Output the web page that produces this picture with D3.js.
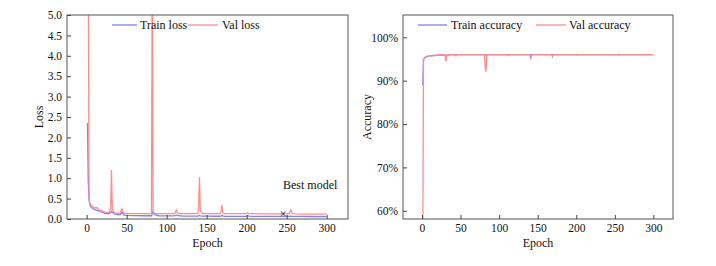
<!DOCTYPE html>
<html><head><meta charset="utf-8">
<script src="https://cdn.jsdelivr.net/npm/d3@7/dist/d3.min.js"></script>
<style>body{margin:0;background:#fff}svg{display:block}</style>
</head><body>
<svg id="c" width="716" height="266"></svg>
<script>
// Data
const epochs = [1,2,3,4,5,6,8,10,13,15,18,20,23,25,28,30,31,32,34,38,42,44,46,50,60,70,80,81,82,83,84,86,90,100,110,112,114,120,130,139,140,141,142,145,150,160,167,168,169,170,172,180,190,199,200,201,203,210,220,230,240,250,253,254,255,257,260,270,280,290,300];
const trainLoss = [2.35,0.9,0.45,0.36,0.31,0.28,0.25,0.23,0.21,0.2,0.18,0.16,0.14,0.13,0.13,0.15,0.19,0.17,0.13,0.11,0.11,0.17,0.1,0.09,0.085,0.08,0.08,0.08,0.12,0.18,0.14,0.1,0.08,0.075,0.075,0.1,0.08,0.07,0.07,0.07,0.075,0.09,0.075,0.07,0.07,0.068,0.068,0.07,0.09,0.075,0.068,0.066,0.066,0.066,0.068,0.08,0.068,0.065,0.064,0.064,0.064,0.063,0.063,0.065,0.07,0.063,0.062,0.062,0.061,0.06,0.06];
const valLoss = [6,6,0.5,0.38,0.35,0.33,0.3,0.27,0.28,0.23,0.2,0.19,0.17,0.16,0.16,0.25,1.2,0.25,0.16,0.14,0.15,0.25,0.15,0.13,0.13,0.13,0.13,0.13,7,0.2,0.15,0.13,0.13,0.13,0.13,0.22,0.14,0.13,0.13,0.13,0.3,1.03,0.2,0.13,0.13,0.13,0.13,0.18,0.35,0.16,0.13,0.13,0.13,0.13,0.14,0.15,0.13,0.13,0.125,0.125,0.125,0.125,0.125,0.16,0.22,0.14,0.125,0.12,0.12,0.12,0.12];
const trainAcc = [0.89,0.948,0.952,0.953,0.954,0.955,0.956,0.957,0.957,0.958,0.958,0.959,0.959,0.959,0.959,0.959,0.958,0.959,0.959,0.96,0.96,0.959,0.96,0.96,0.96,0.96,0.96,0.96,0.959,0.958,0.959,0.96,0.96,0.96,0.96,0.959,0.96,0.96,0.96,0.96,0.96,0.959,0.96,0.96,0.96,0.96,0.96,0.96,0.959,0.96,0.96,0.96,0.96,0.96,0.96,0.96,0.96,0.96,0.96,0.96,0.96,0.96,0.96,0.96,0.96,0.96,0.96,0.96,0.96,0.96,0.96];
const valAcc = [0.5,0.95,0.952,0.954,0.955,0.956,0.957,0.958,0.958,0.959,0.959,0.959,0.96,0.96,0.96,0.958,0.944,0.958,0.96,0.96,0.96,0.957,0.96,0.96,0.96,0.96,0.96,0.96,0.93,0.921,0.958,0.96,0.96,0.96,0.96,0.959,0.96,0.96,0.96,0.96,0.958,0.949,0.959,0.96,0.96,0.96,0.96,0.959,0.955,0.96,0.96,0.96,0.96,0.96,0.96,0.959,0.96,0.96,0.96,0.96,0.96,0.96,0.96,0.96,0.959,0.96,0.96,0.96,0.96,0.96,0.96];
const xTicks = [0,50,100,150,200,250,300];
const lossTicks = [0,0.5,1,1.5,2,2.5,3,3.5,4,4.5,5];
const accTicks = [0.6,0.7,0.8,0.9,1.0];
const bestModel = {epoch: 243, loss: 0.12};

const svg = d3.select('#c');
const FONT = '"Liberation Serif","Times New Roman",serif';
const BLUE = '#7f7fff', RED = '#ff8c8c';

function panel(opts){
  const {left,right,top,bottom,xDom,yDom,yTicks,yFmt,series,ylab,ylabX,legend,id} = opts;
  const x = d3.scaleLinear().domain(xDom).range([left,right]);
  const y = d3.scaleLinear().domain(yDom).range([bottom,top]);
  const g = svg.append('g');
  g.append('clipPath').attr('id',id).append('rect')
    .attr('x',left).attr('y',top).attr('width',right-left).attr('height',bottom-top);
  const line = d3.line().x(d=>x(d[0])).y(d=>y(d[1]));
  series.forEach(s=>{
    g.append('path').datum(epochs.map((e,i)=>[e,s.values[i]]))
      .attr('d',line).attr('fill','none').attr('stroke',s.color)
      .attr('stroke-width',1.3).attr('clip-path',`url(#${id})`);
  });
  // axes (inward ticks)
  const ax = g.append('g').attr('transform',`translate(0,${bottom})`)
    .call(d3.axisBottom(x).tickValues(xTicks).tickSizeInner(-4).tickSizeOuter(0).tickPadding(5));
  const ay = g.append('g').attr('transform',`translate(${left},0)`)
    .call(d3.axisLeft(y).tickValues(yTicks).tickFormat(yFmt).tickSizeInner(-4).tickSizeOuter(0).tickPadding(5));
  [ax,ay].forEach(a=>{
    a.select('.domain').remove();
    a.selectAll('line').attr('stroke','#444');
    a.selectAll('text').attr('font-family',FONT).attr('font-size',11.5).attr('fill','#111');
  });
  g.append('rect').attr('x',left).attr('y',top).attr('width',right-left).attr('height',bottom-top)
    .attr('fill','none').attr('stroke','#555').attr('stroke-width',1);
  g.append('text').attr('x',(left+right)/2).attr('y',bottom+28).attr('text-anchor','middle')
    .attr('font-family',FONT).attr('font-size',12).attr('fill','#111').text('Epoch');
  g.append('text').attr('transform',`translate(${ylabX},${(top+bottom)/2}) rotate(-90)`)
    .attr('text-anchor','middle').attr('dy','0.35em')
    .attr('font-family',FONT).attr('font-size',12).attr('fill','#111').text(ylab);
  legend.forEach(l=>{
    g.append('line').attr('x1',l.x1).attr('x2',l.x2).attr('y1',25).attr('y2',25)
      .attr('stroke',l.color).attr('stroke-width',1.3);
    g.append('text').attr('x',l.tx).attr('y',25).attr('dy','0.35em')
      .attr('font-family',FONT).attr('font-size',12).attr('fill','#111').text(l.label);
  });
  return {x,y,g};
}

const L = panel({id:'clipL',left:67,right:348,top:15,bottom:219,xDom:[-24.6,326.6],yDom:[0,5],
  yTicks:lossTicks,yFmt:d3.format('.1f'),ylab:'Loss',ylabX:39,
  series:[{values:trainLoss,color:BLUE},{values:valLoss,color:RED}],
  legend:[{x1:112,x2:137,tx:140,color:BLUE,label:'Train loss'},{x1:188,x2:218,tx:222,color:RED,label:'Val loss'}]});
L.g.append('text').attr('x',L.x(bestModel.epoch)+2).attr('y',L.y(bestModel.loss)).attr('dy','0.35em')
  .attr('text-anchor','middle').attr('font-family',FONT).attr('font-size',12).attr('fill','#222').text('×');
L.g.append('text').attr('x',283).attr('y',185).attr('dy','0.35em')
  .attr('font-family',FONT).attr('font-size',12).attr('fill','#111').text('Best model');

panel({id:'clipR',left:403,right:673,top:15,bottom:219,xDom:[-24.6,325.4],yDom:[0.581,1.0515],
  yTicks:accTicks,yFmt:d3.format('.0%'),ylab:'Accuracy',ylabX:367,
  series:[{values:trainAcc,color:BLUE},{values:valAcc,color:RED}],
  legend:[{x1:418,x2:447,tx:451,color:BLUE,label:'Train accuracy'},{x1:536,x2:566,tx:569,color:RED,label:'Val accuracy'}]});
</script>
</body></html>
